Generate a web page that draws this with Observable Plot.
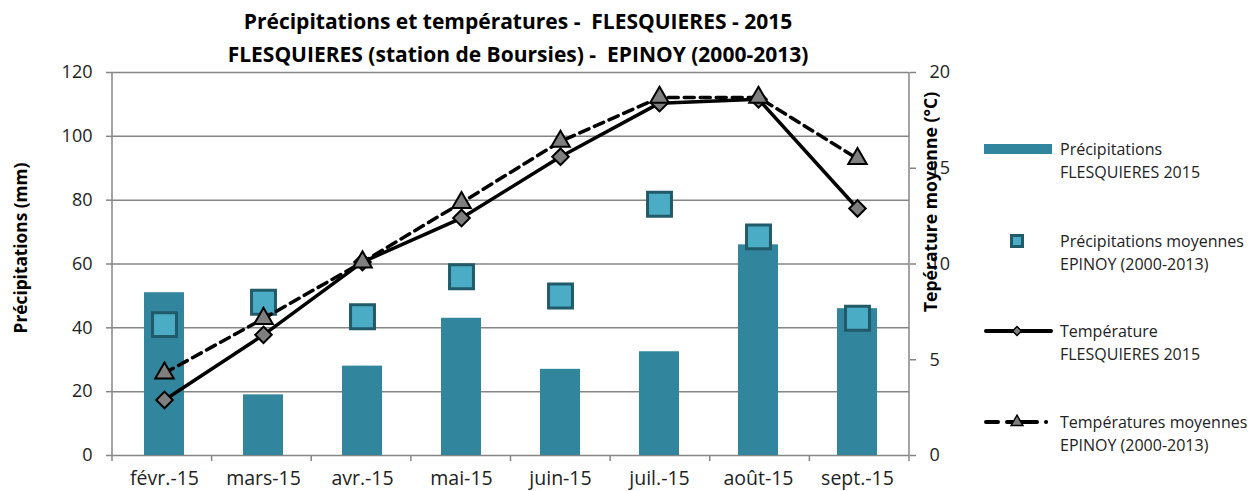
<!DOCTYPE html>
<html><head><meta charset="utf-8">
<script src="https://cdn.jsdelivr.net/npm/d3@7"></script>
<script src="https://cdn.jsdelivr.net/npm/@observablehq/plot@0.6"></script>
<style>
body{margin:0;background:#fff;}
#wrap{position:relative;width:1253px;height:491px;overflow:hidden;font-family:"Open Sans",sans-serif;}
#title{position:absolute;left:0;top:5px;width:1036px;text-align:center;font-weight:bold;font-size:21px;line-height:33px;color:#000;}
#chart{position:absolute;left:0;top:54px;}
#legend{position:absolute;left:0;top:0;pointer-events:none;}
#legend text{font-family:"Open Sans",sans-serif;font-size:16px;fill:#222;}
</style></head><body>
<div id="wrap">
<div id="title">Précipitations et températures -&nbsp; FLESQUIERES - 2015<br>FLESQUIERES (station de Boursies) -&nbsp; EPINOY (2000-2013)</div>
<div id="chart"></div>
<svg id="legend" width="1253" height="491"></svg>
</div>
<script>
const months = ["févr.-15","mars-15","avr.-15","mai-15","juin-15","juil.-15","août-15","sept.-15"];
const precip2015 = [51, 19, 28, 43, 27, 32.5, 66, 46];
const precipAvg = [41, 48, 43.5, 56, 50, 78.7, 68.5, 43];
const temp2015 = [2.9, 6.3, 10.1, 12.4, 15.6, 18.4, 18.6, 12.9];
const tempAvg = [4.3, 7.15, 10.1, 13.2, 16.4, 18.7, 18.7, 15.5];
const precipTicks = [0, 20, 40, 60, 80, 100, 120];
const tempTicks = [0, 5, 10, 15, 20];
const legendLabels = [
  ["Précipitations", "FLESQUIERES 2015"],
  ["Précipitations moyennes", "EPINOY (2000-2013)"],
  ["Température", "FLESQUIERES 2015"],
  ["Températures moyennes", "EPINOY (2000-2013)"]
];

const BAR = "#31859C", SQF = "#4BACC6", SQS = "#215A69", GREY = "#7F7F7F", GRID = "#868686";
const K = 120 / 20; // precipitation units per °C

const data = months.map((m, i) => ({m, p: precip2015[i], pa: precipAvg[i], t: temp2015[i] * K, ta: tempAvg[i] * K}));

function axisLines(index, scales, values, dim) {
  const x0 = dim.marginLeft, x1 = dim.width - dim.marginRight;
  const y0 = dim.marginTop, y1 = dim.height - dim.marginBottom;
  const g = d3.create("svg:g").attr("stroke", GRID).attr("stroke-width", 1.5);
  g.append("line").attr("x1", x0).attr("x2", x0).attr("y1", y0).attr("y2", y1 + 6);
  g.append("line").attr("x1", x1).attr("x2", x1).attr("y1", y0).attr("y2", y1 + 6);
  const step = (x1 - x0) / months.length;
  for (let i = 1; i < months.length; i++) {
    g.append("line").attr("x1", x0 + i * step).attr("x2", x0 + i * step).attr("y1", y1).attr("y2", y1 + 6);
  }
  return g.node();
}

const chart = Plot.plot({
  width: 1253, height: 437,
  marginLeft: 112, marginRight: 344, marginTop: 18, marginBottom: 36,
  style: {fontFamily: "Open Sans", fontSize: "18px", color: "#222", background: "transparent", overflow: "visible"},
  x: {domain: months, paddingInner: 0.6, paddingOuter: 0.3},
  y: {domain: [0, 120]},
  marks: [
    Plot.gridY(precipTicks, {stroke: GRID, strokeOpacity: 1, strokeWidth: 1.5}),
    axisLines,
    Plot.axisY(precipTicks, {anchor: "left", tickSize: 6, tickPadding: 14, stroke: GRID, strokeWidth: 1.5, fontSize: 18, label: null}),
    Plot.axisY(tempTicks.map(t => t * K), {anchor: "right", tickSize: 6, tickPadding: 14, stroke: GRID, strokeWidth: 1.5, fontSize: 18, tickFormat: d => d / K, label: null}),
    Plot.axisX({tickSize: 0, tickPadding: 16, fontSize: 19.5, label: null}),
    Plot.text(["Précipitations (mm)"], {text: d => d, frameAnchor: "left", textAnchor: "middle", rotate: -90, dx: -91, dy: -16, fontWeight: "bold", fontSize: 17.3, fill: "#000"}),
    Plot.text(["Tepérature moyenne (°C)"], {text: d => d, frameAnchor: "right", textAnchor: "middle", rotate: -90, dx: 22, dy: -62, fontWeight: "bold", fontSize: 17.6, fill: "#000"}),
    Plot.barY(data, {x: "m", y: "p", fill: BAR}),
    Plot.dot(data, {x: "m", y: "pa", symbol: "square", r: 13.5, fill: SQF, stroke: SQS, strokeWidth: 3}),
    Plot.line(data, {x: "m", y: "t", stroke: "#000", strokeWidth: 3.5}),
    Plot.line(data, {x: "m", y: "ta", stroke: "#000", strokeWidth: 3.5, strokeDasharray: "10,6"}),
    Plot.dot(data, {x: "m", y: "t", symbol: "square", rotate: 45, r: 6.6, fill: GREY, stroke: "#000", strokeWidth: 2}),
    Plot.dot(data, {x: "m", y: "ta", symbol: "triangle", r: 6.9, fill: GREY, stroke: "#000", strokeWidth: 2})
  ]
});
document.getElementById("chart").appendChild(chart);

// Legend
const lg = d3.select("#legend");
const rows = [149, 241, 331, 422];
const sx0 = 984, sx1 = 1053, sxm = 1017, tx = 1060;
lg.append("rect").attr("x", sx0).attr("y", rows[0] - 5).attr("width", sx1 - sx0 - 1).attr("height", 10).attr("fill", BAR);
lg.append("rect").attr("x", sxm - 5.5).attr("y", rows[1] - 5.5).attr("width", 11).attr("height", 11).attr("fill", SQF).attr("stroke", SQS).attr("stroke-width", 3);
lg.append("line").attr("x1", sx0 + 2).attr("x2", sx1 - 2).attr("y1", rows[2]).attr("y2", rows[2]).attr("stroke", "#000").attr("stroke-width", 4).attr("stroke-linecap", "round");
lg.append("path").attr("d", d3.symbol(d3.symbolSquare, 40)()).attr("transform", `translate(${sxm},${rows[2]}) rotate(45)`).attr("fill", GREY).attr("stroke", "#000").attr("stroke-width", 1.5);
lg.append("line").attr("x1", sx0 + 2).attr("x2", sx1).attr("y1", rows[3]).attr("y2", rows[3]).attr("stroke", "#000").attr("stroke-width", 4).attr("stroke-linecap", "round").attr("stroke-dasharray", "12,9,30,9,0.1,100");
lg.append("path").attr("d", d3.symbol(d3.symbolTriangle, 60)()).attr("transform", `translate(${sxm},${rows[3]})`).attr("fill", GREY).attr("stroke", "#000").attr("stroke-width", 1.5);
legendLabels.forEach((lines, i) => {
  lines.forEach((s, j) => {
    lg.append("text").attr("x", tx).attr("y", rows[i] + j * 23).attr("dominant-baseline", "central").text(s);
  });
});
</script>
</body></html>
